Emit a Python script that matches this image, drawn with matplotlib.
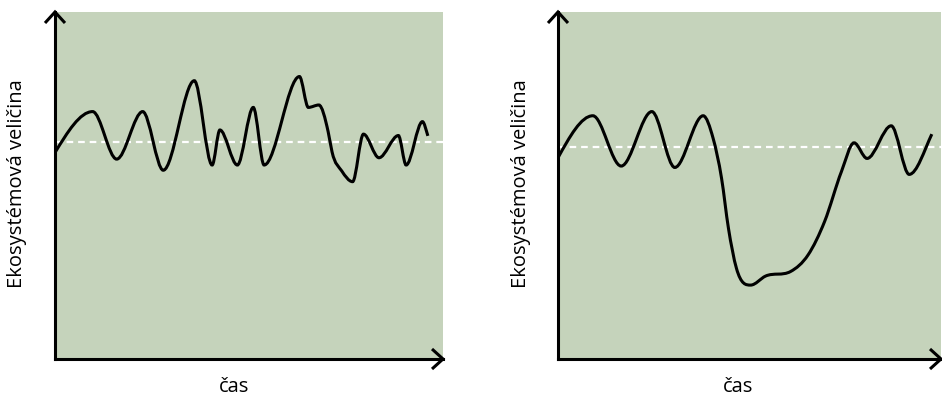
import numpy as np
import matplotlib
matplotlib.use('Agg')
import matplotlib.pyplot as plt
from matplotlib.path import Path
from matplotlib.patches import PathPatch

plt.rcParams['font.family'] = ['Open Sans', 'DejaVu Sans']

# hodnoty (čas 0-100, veličina 0-100)
left_t = [0, 9.7, 15.9, 22.6, 27.9, 35.9, 40.5, 42.5, 47.0, 51.1, 53.9, 63.0, 65.3, 68.0,
          70.4, 71.4, 73.9, 76.7, 79.5, 83.5, 88.5, 90.5, 94.7, 96.1]
left_v = [59.5, 71.3, 57.6, 71.3, 54.4, 80.2, 55.9, 66.0, 55.9, 72.5, 55.9, 81.4, 72.5, 73.2,
          65.5, 59.7, 54.2, 51.1, 64.8, 58.0, 64.4, 55.9, 68.4, 64.3]
left_base = 62.4

right_t = [0, 9.1, 16.5, 24.5, 30.5, 37.9, 40.5, 42.7, 44.5, 46.6, 50.3, 54.2, 60.7, 65.3,
           69.6, 74.0, 77.3, 80.7, 87.0, 91.7, 97.6]
right_v = [58.0, 70.1, 55.6, 71.3, 55.2, 70.1, 63.6, 52.1, 37.7, 26.1, 21.3, 23.9, 25.2, 30.0,
           39.6, 54.0, 62.3, 57.8, 67.2, 53.2, 64.8]
right_base = 61.0

xlabel = 'čas'
ylabel = 'Ekosystémová veličina'

bg = '#c5d3bb'
W, H = 942, 398


def smooth_path(t, v):
    # hladká křivka přes body (Bézier), na vrcholech vodorovná tečna
    t = np.asarray(t, float)
    v = np.asarray(v, float)
    h = np.diff(t)
    d = np.diff(v) / h
    m = np.zeros_like(v)
    for i in range(1, len(v) - 1):
        if d[i - 1] * d[i] > 0:
            c = (h[i] * d[i - 1] + h[i - 1] * d[i]) / (h[i - 1] + h[i])
            lim = 3 * min(abs(d[i - 1]), abs(d[i]))
            m[i] = np.sign(c) * min(abs(c), lim)
    m[0] = d[0] * 1.5
    m[-1] = d[-1] * 1.2
    verts = [(t[0], v[0])]
    codes = [Path.MOVETO]
    for i in range(len(h)):
        verts += [(t[i] + h[i] / 3, v[i] + m[i] * h[i] / 3),
                  (t[i + 1] - h[i] / 3, v[i + 1] - m[i + 1] * h[i] / 3),
                  (t[i + 1], v[i + 1])]
        codes += [Path.CURVE4] * 3
    return Path(verts, codes)


def draw_panel(ax, t, v, base, wpx, hpx):
    ax.set_facecolor(bg)
    ax.set_xlim(0, 100)
    ax.set_ylim(0, 100)
    ax.set_xticks([])
    ax.set_yticks([])
    for s in ['top', 'right']:
        ax.spines[s].set_visible(False)
    for s in ['left', 'bottom']:
        ax.spines[s].set_linewidth(2.2)
        ax.spines[s].set_color('black')
    ax.axhline(base, color='white', lw=1.6, ls=(0, (3.0, 2.2)), zorder=2)
    ax.add_patch(PathPatch(smooth_path(t, v), facecolor='none', edgecolor='black',
                           lw=2.2, zorder=3))
    # šipky na osách
    wx = 10 / wpx
    hy = 11 / hpx
    ax.plot([-wx, 0, wx], [1 - hy, 1, 1 - hy], transform=ax.transAxes, clip_on=False,
            color='black', lw=2.2, solid_joinstyle='miter', solid_capstyle='butt')
    bx = 11 / wpx
    by = 10 / hpx
    ax.plot([1 - bx, 1, 1 - bx], [by, 0, -by], transform=ax.transAxes, clip_on=False,
            color='black', lw=2.2, solid_joinstyle='miter', solid_capstyle='butt')


fig = plt.figure(figsize=(W / 100, H / 100), dpi=100)
ax1 = fig.add_axes([55 / W, 39 / H, 388 / W, 347 / H])
ax2 = fig.add_axes([558 / W, 39 / H, 383 / W, 347 / H])

draw_panel(ax1, left_t, left_v, left_base, 388, 347)
draw_panel(ax2, right_t, right_v, right_base, 383, 347)

fs = 14.5
fig.text(17 / W, 1 - 184 / H, ylabel, rotation=90, ha='center', va='center', fontsize=fs)
fig.text(521 / W, 1 - 184 / H, ylabel, rotation=90, ha='center', va='center', fontsize=fs)
fig.text(234 / W, 1 - 387 / H, xlabel, ha='center', va='center', fontsize=fs)
fig.text(738 / W, 1 - 387 / H, xlabel, ha='center', va='center', fontsize=fs)

fig.savefig('out.png', dpi=100)
